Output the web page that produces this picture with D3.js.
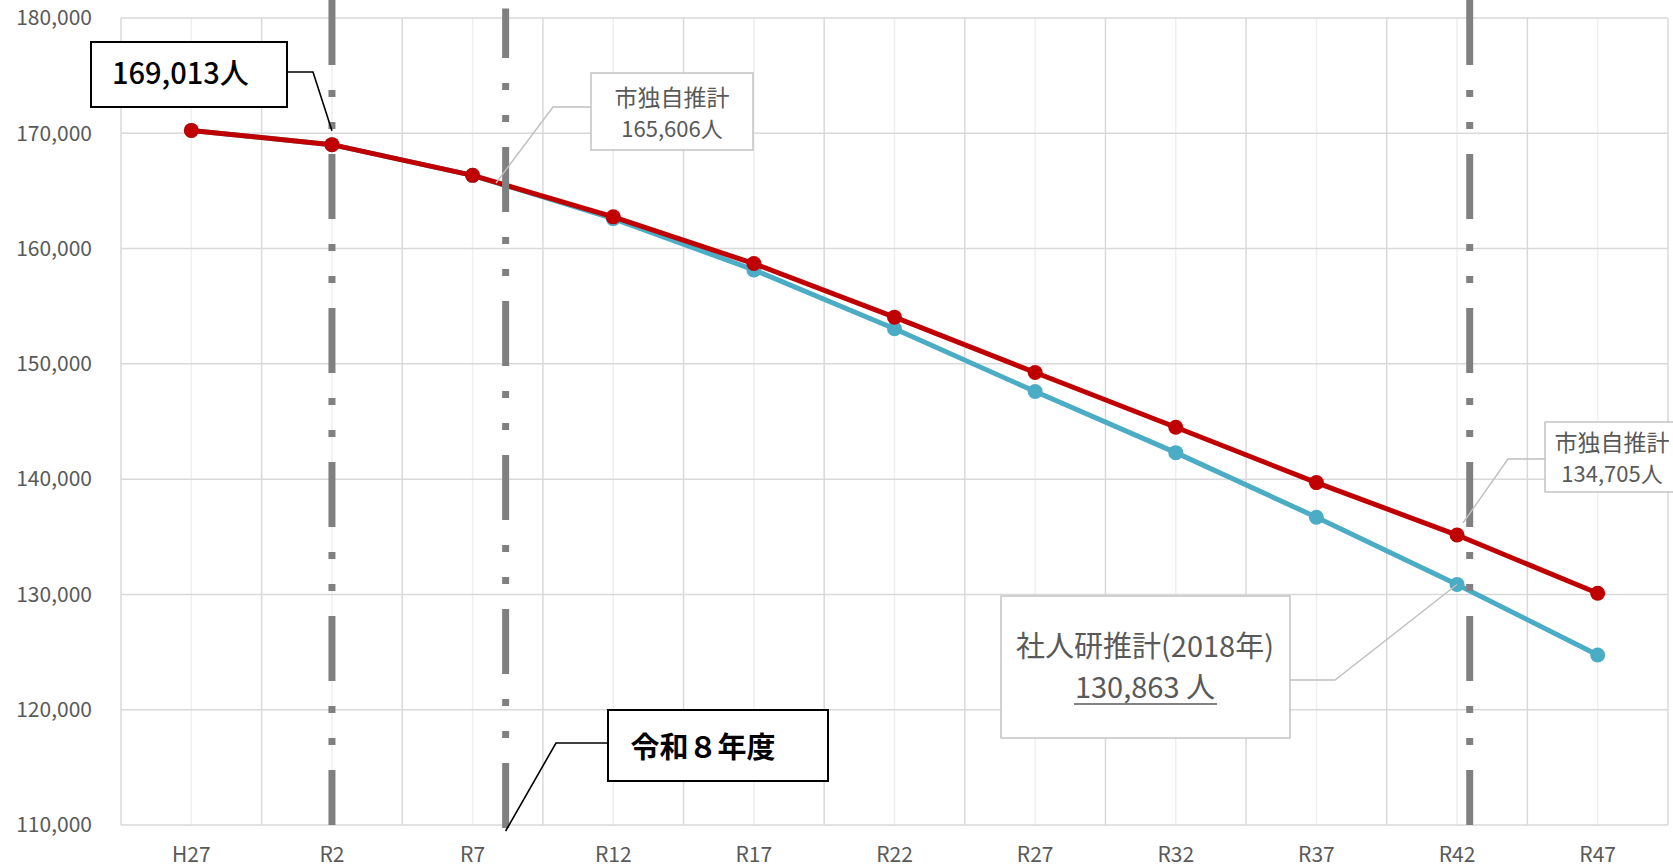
<!DOCTYPE html>
<html><head><meta charset="utf-8">
<script src="https://cdn.jsdelivr.net/npm/d3@7"></script>
<style>
body{margin:0;background:#fff;}
svg{display:block;font-family:"Noto Sans CJK JP","Noto Sans",sans-serif;}
</style>
</head><body>
<svg id="c" width="1673" height="867"></svg>
<script>
// ---- data ----
const categories = ["H27","R2","R7","R12","R17","R22","R27","R32","R37","R42","R47"];
const cityEstimate = [170250,169013,166350,162750,158700,154050,149250,144500,139700,135150,130100];
const ipssEstimate = [170250,169013,166350,162600,158150,153050,147600,142300,136700,130863,124750];
const yTicks = [110000,120000,130000,140000,150000,160000,170000,180000];
// reference (dash-dot) lines, in category-index units
const refLines = [1, 2.235, 9.09];

(function () {
// ---- layout ----
const pLeft = 121, pRight = 1668, pTop = 18, pBottom = 825;
const svg = d3.select("#c");

const xb = d3.scaleBand().domain(categories).range([pLeft, pRight]).padding(0);
const xi = d3.scaleLinear().domain([-0.5, categories.length - 0.5]).range([pLeft, pRight]);
const y = d3.scaleLinear().domain([110000, 180000]).range([pBottom, pTop]);
const cx = c => xb(c) + xb.bandwidth() / 2;

// gridlines
const g = svg.append("g");
g.selectAll("line.vmin").data(categories).join("line")
  .attr("x1", d => cx(d)).attr("x2", d => cx(d))
  .attr("y1", pTop).attr("y2", pBottom)
  .attr("stroke", "#efefef").attr("stroke-width", 1.5);
g.selectAll("line.vmaj").data(d3.range(categories.length + 1)).join("line")
  .attr("x1", d => xi(d - 0.5)).attr("x2", d => xi(d - 0.5))
  .attr("y1", pTop).attr("y2", pBottom)
  .attr("stroke", "#d9d9d9").attr("stroke-width", 1.5);
g.selectAll("line.h").data(yTicks).join("line")
  .attr("x1", pLeft).attr("x2", pRight)
  .attr("y1", d => y(d)).attr("y2", d => y(d))
  .attr("stroke", "#d9d9d9").attr("stroke-width", 1.5);

// axes
const ya = svg.append("g").attr("transform", `translate(${pLeft},0)`)
  .call(d3.axisLeft(y).tickValues(yTicks).tickFormat(d3.format(",")).tickSize(0).tickPadding(29));
ya.select(".domain").remove();
ya.selectAll("text").attr("fill", "#595959").style("font-size", "21px").style("font-family", '"Noto Sans CJK JP",sans-serif');

const xa = svg.append("g").attr("transform", `translate(0,${pBottom})`)
  .call(d3.axisBottom(xb).tickSize(0).tickPadding(22));
xa.select(".domain").remove();
xa.selectAll("text").attr("fill", "#595959").style("font-size", "21px").style("font-family", '"Noto Sans CJK JP",sans-serif');

// series
const line = d3.line().x((d, i) => cx(categories[i])).y(d => y(d));
function series(vals, color) {
  svg.append("path").datum(vals).attr("d", line)
    .attr("fill", "none").attr("stroke", color).attr("stroke-width", 5)
    .attr("stroke-linejoin", "round");
  svg.append("g").selectAll("circle").data(vals).join("circle")
    .attr("cx", (d, i) => cx(categories[i])).attr("cy", d => y(d))
    .attr("r", 7.5).attr("fill", color);
}
series(ipssEstimate, "#4bacc6");
series(cityEstimate, "#c00000");

// reference dash-dot lines
const refExtents = [[0, pBottom, 0], [8.5, 833, 15.5], [0, pBottom, 0]];
svg.append("g").selectAll("line").data(refLines).join("line")
  .attr("x1", d => xi(d)).attr("x2", d => xi(d))
  .attr("y1", (d, i) => refExtents[i][0]).attr("y2", (d, i) => refExtents[i][1])
  .attr("stroke", "#808080").attr("stroke-width", 7)
  .attr("stroke-dasharray", "65 25 7 25 7 25")
  .attr("stroke-dashoffset", (d, i) => refExtents[i][2]);

// callouts
function leader(pts, color, w) {
  svg.append("polyline").attr("points", pts.map(p => p.join(",")).join(" "))
    .attr("fill", "none").attr("stroke", color).attr("stroke-width", w);
}
function box(x, yy, w, h, stroke, sw) {
  svg.append("rect").attr("x", x).attr("y", yy).attr("width", w).attr("height", h)
    .attr("fill", "#fff").attr("stroke", stroke).attr("stroke-width", sw);
}
function text(x, yy, s, size, color, anchor, weight) {
  return svg.append("text").attr("x", x).attr("y", yy).text(s)
    .attr("font-size", size).attr("fill", color).attr("text-anchor", anchor || "middle")
    .attr("font-weight", weight || "normal");
}

// 169,013人
leader([[287, 72], [313, 72], [xi(refLines[0]), y(cityEstimate[1]) - 14]], "#000", 1.6);
box(91, 42, 196, 65, "#000", 2);
text(112, 84, "169,013人", 29, "#000", "start", 500);

// 市独自推計 165,606人
leader([[591, 107], [553, 107], [496, 183]], "#bfbfbf", 1.4);
box(591, 73, 162, 77, "#bfbfbf", 1.4);
text(672, 106, "市独自推計", 23, "#595959");
text(672, 137, "165,606人", 22, "#595959");

// 市独自推計 134,705人
leader([[1545, 459], [1508, 459], [1463, 523]], "#bfbfbf", 1.4);
box(1545, 422, 140, 70, "#bfbfbf", 1.4);
text(1612, 451, "市独自推計", 23, "#595959");
text(1612, 482, "134,705人", 22, "#595959");

// 社人研推計(2018年) 130,863 人
leader([[1290, 680], [1335, 680], [cx(categories[9]), y(ipssEstimate[9])]], "#bfbfbf", 1.4);
box(1001, 596, 289, 142, "#bfbfbf", 1.4);
text(1145, 657, "社人研推計(2018年)", 29, "#595959");
text(1145, 698, "130,863 人", 29, "#595959");
svg.append("line").attr("x1", 1074).attr("x2", 1217).attr("y1", 704).attr("y2", 704)
  .attr("stroke", "#595959").attr("stroke-width", 1.6);

// 令和８年度
leader([[608, 743], [556, 743], [xi(refLines[1]), 831]], "#000", 1.6);
box(608, 710, 220, 71, "#000", 2);
text(703, 758, "令和８年度", 29, "#000", "middle", "bold");
})();
</script>
</body></html>
